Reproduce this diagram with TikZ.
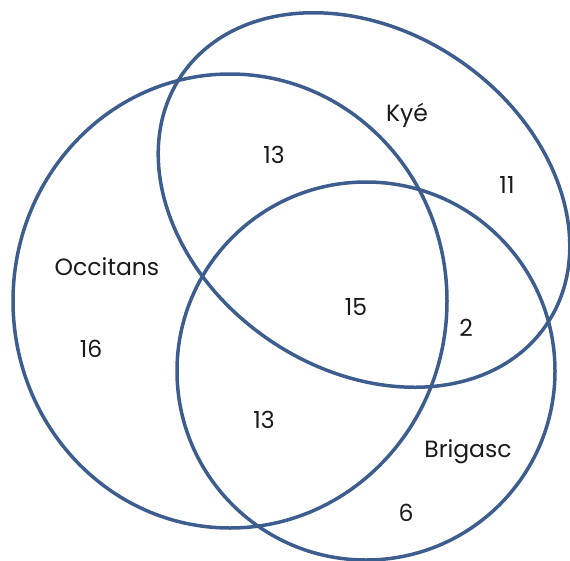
\documentclass[tikz,border=0pt]{standalone}
\usepackage{fontspec}
\setmainfont{Poppins}
\definecolor{venn}{RGB}{61,93,143}
\begin{document}
\begin{tikzpicture}[x=1pt,y=-1pt,
  ring/.style={draw=venn, line width=3.5pt},
  lbl/.style={font=\fontsize{23.5}{27}\selectfont, text=black!90, inner sep=0pt}]
\useasboundingbox (0,0) rectangle (570,560);
\draw[ring] (230,301) ellipse [x radius=217, y radius=227];
\draw[ring] (366,371) circle [radius=189];
\draw[ring, rotate around={-34.5:(364,200)}] (364,200) ellipse [x radius=221, y radius=169];
\node[lbl] (kye) at (407,115) {Kyé};
\node[lbl] (ok) at (274,155) {13};
\node[lbl] (k) at (507,185) {11};
\node[lbl] (occ) at (107,267) {Occitans};
\node[lbl] (okb) at (356,307) {15};
\node[lbl] (kb) at (466,328) {2};
\node[lbl] (o) at (91,349) {16};
\node[lbl] (ob) at (264,420) {13};
\node[lbl] (bri) at (468,452) {Brigasc};
\node[lbl] (b) at (406,513) {6};
\end{tikzpicture}
\end{document}
